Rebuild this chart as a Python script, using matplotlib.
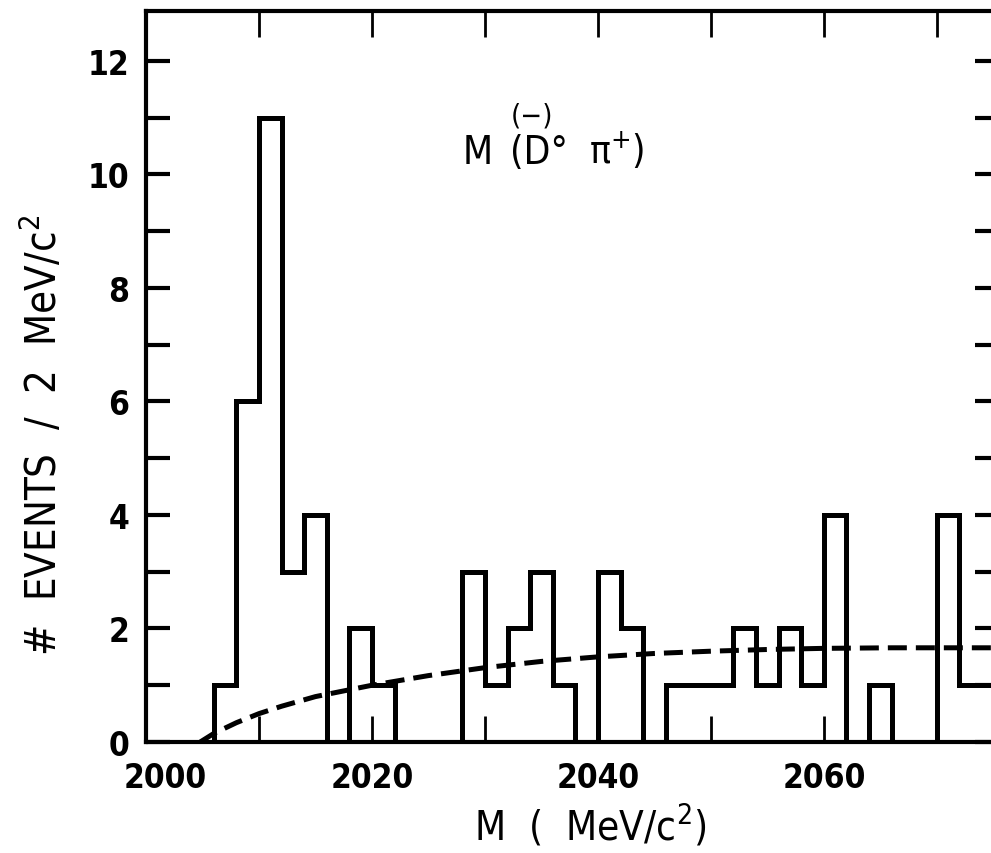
import matplotlib
matplotlib.use("Agg")
import matplotlib.pyplot as plt
import matplotlib.transforms as mtransforms
import numpy as np

# histogram: 2 MeV bins starting at 2000 MeV
bin_edges = np.arange(2000, 2078, 2)
counts = [0, 0, 0, 1, 6, 11, 3, 4, 0, 2,
          1, 0, 0, 0, 3, 1, 2, 3, 1, 0,
          3, 2, 0, 1, 1, 1, 2, 1, 2, 1,
          4, 0, 1, 0, 0, 4, 1, 1]

# background curve
bg_mass = [2004.8, 2006, 2008, 2010, 2012, 2015, 2020, 2025, 2030,
           2035, 2040, 2045, 2050, 2055, 2060, 2066, 2076]
bg_vals = [0.0, 0.15, 0.34, 0.5, 0.63, 0.8, 1.0, 1.17, 1.31,
           1.42, 1.5, 1.56, 1.6, 1.63, 1.65, 1.66, 1.66]

xticks_major = [2000, 2020, 2040, 2060]
xtick_labels = ["2000", "2020", "2040", "2060"]
yticks_major = [0, 2, 4, 6, 8, 10, 12]

plt.rcParams["font.family"] = ["DejaVu Sans"]
plt.rcParams["font.stretch"] = "condensed"

fig = plt.figure(figsize=(9.91, 8.54), dpi=100)
ax = fig.add_axes([146 / 991, 111 / 854, 853 / 991, 731 / 854])

ax.stairs(counts, bin_edges, baseline=0, color="black", linewidth=3.6)
ax.plot(bg_mass, bg_vals, color="black", linewidth=3.6, dashes=(3.8, 1.8))

ax.set_xlim(2000, 2075.5)
ax.set_ylim(0, 12.88)

for s in ax.spines.values():
    s.set_linewidth(3.0)

ax.set_xticks(xticks_major)
ax.set_xticklabels(xtick_labels)
ax.set_xticks(np.arange(2010, 2080, 10), minor=True)
ax.set_yticks(yticks_major)
ax.set_yticks(np.arange(1, 13, 2), minor=True)

ax.tick_params(axis="both", which="both", direction="in", top=True, right=True,
               length=17, width=3.0, labelsize=24)
ax.tick_params(axis="x", which="both", width=2.0, length=19, pad=14)
ax.tick_params(axis="y", which="both", pad=12)
for lab in ax.get_xticklabels() + ax.get_yticklabels():
    lab.set_fontweight("bold")
    lab.set_fontstretch("condensed")

# shift the 2000 label to the right like the original
lab0 = ax.get_xticklabels()[0]
lab0.set_transform(lab0.get_transform() + mtransforms.ScaledTranslation(0.19, 0, fig.dpi_scale_trans))

# reaction label
ax.text(2028.0, 10.2, "M", fontsize=28, ha="left", va="baseline")
ax.text(2032.2, 10.2, "(D°", fontsize=28, ha="left", va="baseline")
ax.text(2039.2, 10.2, "π$^{+}$)", fontsize=28, ha="left", va="baseline")
ax.text(2034.2, 10.9, "(−)", fontsize=21, ha="center", va="baseline")

fig.text(43 / 991, 1 - 435 / 854, "#  EVENTS  /  2  MeV/c$^{2}$", rotation=90,
         fontsize=30, ha="center", va="center")
fig.text(590 / 991, 1 - 826 / 854, "M  (  MeV/c$^{2}$)", fontsize=29,
         ha="center", va="center")

fig.savefig("out.png", dpi=100)
